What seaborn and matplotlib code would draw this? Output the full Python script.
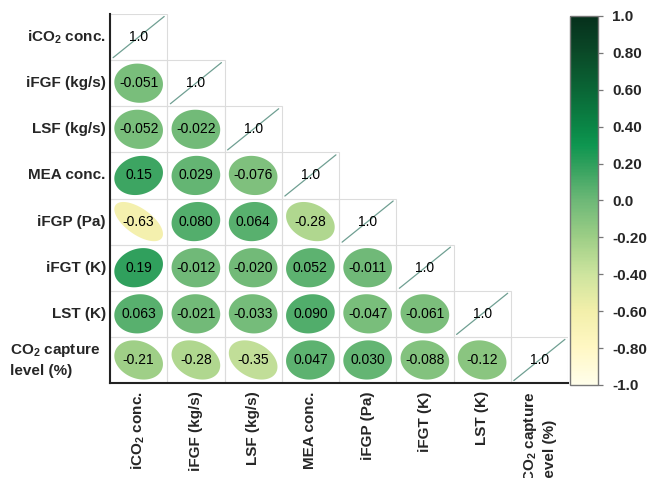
import numpy as np
import matplotlib
matplotlib.use("Agg")
import matplotlib.pyplot as plt
from matplotlib.colors import LinearSegmentedColormap, ListedColormap, Normalize
from matplotlib.cm import ScalarMappable
from matplotlib.patches import Polygon, Rectangle
from matplotlib.transforms import ScaledTranslation
import seaborn as sns

# Variable names (rows top-to-bottom, columns left-to-right)
labels = [
    r"iCO$_\mathbf{2}$ conc.",
    "iFGF (kg/s)",
    "LSF (kg/s)",
    "MEA conc.",
    "iFGP (Pa)",
    "iFGT (K)",
    "LST (K)",
    "CO$_\\mathbf{2}$ capture\nlevel (%)",
]

# Lower-triangle correlation coefficients, one list per row
row_ifgf = [-0.051]
row_lsf = [-0.052, -0.022]
row_mea = [0.15, 0.029, -0.076]
row_ifgp = [-0.63, 0.080, 0.064, -0.28]
row_ifgt = [0.19, -0.012, -0.020, 0.052, -0.011]
row_lst = [0.063, -0.021, -0.033, 0.090, -0.047, -0.061]
row_co2 = [-0.21, -0.28, -0.35, 0.047, 0.030, -0.088, -0.12]

cbar_ticks = [1.0, 0.8, 0.6, 0.4, 0.2, 0.0, -0.2, -0.4, -0.6, -0.8, -1.0]
cbar_ticklabels = ["1.0", "0.80", "0.60", "0.40", "0.20", "0.0",
                   "-0.20", "-0.40", "-0.60", "-0.80", "-1.0"]

# Assemble the full symmetric matrix
n = len(labels)
rows = [[], row_ifgf, row_lsf, row_mea, row_ifgp, row_ifgt, row_lst, row_co2]
corr = np.eye(n)
for i, r in enumerate(rows):
    for j, v in enumerate(r):
        corr[i, j] = v
        corr[j, i] = v

sns.set_style("white")
plt.rcParams["font.family"] = ["Liberation Sans", "DejaVu Sans"]
plt.rcParams["mathtext.fontset"] = "custom"
plt.rcParams["mathtext.rm"] = "Liberation Sans"
plt.rcParams["mathtext.bf"] = "Liberation Sans:bold"

cmap = LinearSegmentedColormap.from_list(
    "corr_ylgn",
    [
        (0.00, "#FFFEEA"),
        (0.10, "#FFF7C4"),
        (0.20, "#F2EFAA"),
        (0.30, "#CDE49E"),
        (0.40, "#9DCE86"),
        (0.50, "#6DB877"),
        (0.60, "#2E9F5C"),
        (0.65, "#0E9650"),
        (0.70, "#0A8646"),
        (0.80, "#0A6636"),
        (0.90, "#0A4A28"),
        (1.00, "#06301C"),
    ],
)
norm = Normalize(-1, 1)

fig = plt.figure(figsize=(6.51, 4.78), dpi=100)
ax = fig.add_axes([0.169, 0.1987, 0.7035, 0.772])

# White lower-triangle background
upper = np.triu(np.ones((n, n), dtype=bool), k=1)
sns.heatmap(
    np.zeros((n, n)), mask=upper, cmap=ListedColormap(["white"]),
    cbar=False, linewidths=0,
    xticklabels=labels, yticklabels=labels, ax=ax,
)

# Light borders around the lower-triangle cells only
for i in range(n):
    for j in range(i + 1):
        ax.add_patch(Rectangle((j, i), 1, 1, facecolor="none",
                               edgecolor="#dcdcdc", lw=0.8, zorder=2))

# Correlation ellipses (corrplot-style), diagonal drawn as a line
t = np.linspace(0, 2 * np.pi, 120)
scale = 0.85
for i in range(n):
    for j in range(i + 1):
        r = corr[i, j]
        cx, cy = j + 0.5, i + 0.5
        half = np.arccos(np.clip(r, -1, 1)) / 2
        dx = scale * np.cos(t + half) / 2
        dy = scale * np.cos(t - half) / 2
        if i == j:
            ext = scale / 2 * 1.05
            ax.plot([cx - ext, cx + ext], [cy + ext, cy - ext],
                    color="#6f9f92", lw=0.9, zorder=3)
        else:
            ax.add_patch(Polygon(np.column_stack([cx + dx, cy - dy]),
                                 closed=True, facecolor=cmap(norm(r)),
                                 edgecolor="none", zorder=3))
        ax.text(cx, cy, format(r, "#.2g"), ha="center", va="center",
                fontsize=10, color="black", zorder=4)

ax.tick_params(axis="both", length=0, labelsize=11)
ax.tick_params(axis="y", pad=3)
ax.tick_params(axis="x", pad=6)
ylabs = ax.get_yticklabels()
for lab in ylabs:
    lab.set_rotation(0)
    lab.set_fontweight("bold")
    lab.set_multialignment("left")
    lab.set_linespacing(1.45)
ylabs[-1].set_transform(ylabs[-1].get_transform()
                        + ScaledTranslation(-6 / 100, 0, fig.dpi_scale_trans))
for lab in ax.get_xticklabels():
    lab.set_rotation(90)
    lab.set_fontweight("bold")
    lab.set_multialignment("left")
    lab.set_linespacing(1.3)

for side in ["left", "bottom"]:
    ax.spines[side].set_visible(True)
    ax.spines[side].set_color("#222222")
    ax.spines[side].set_linewidth(1.5)
for side in ["top", "right"]:
    ax.spines[side].set_visible(False)

# Colour bar
cax = fig.add_axes([0.8756, 0.1946, 0.043, 0.772])
cb = fig.colorbar(ScalarMappable(norm=norm, cmap=cmap), cax=cax)
cb.set_ticks(cbar_ticks)
cb.set_ticklabels(cbar_ticklabels)
cb.outline.set_edgecolor("#777777")
cb.outline.set_linewidth(1.0)
cax.tick_params(length=3.6, width=0.9, color="#777777", pad=6.5, labelsize=11)
for lab in cax.get_yticklabels():
    lab.set_fontweight("bold")

fig.savefig("out.png", dpi=100)
